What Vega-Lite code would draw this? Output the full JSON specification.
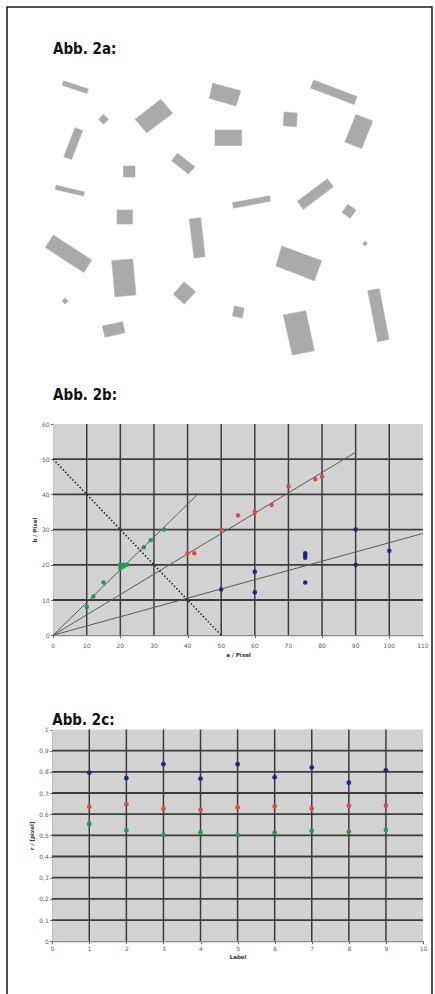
{
  "$schema": "https://vega.github.io/schema/vega-lite/v6.json",
  "width": 425,
  "height": 1000,
  "autosize": "none",
  "padding": {"left": 7, "top": 7, "right": 3, "bottom": 0},
  "background": "white",
  "config": {
    "font": "DejaVu Sans",
    "view": {"stroke": "#1a1a1a", "strokeWidth": 1.5},
    "axis": {
      "labelFontSize": 6,
      "labelColor": "#606060",
      "labelPadding": 1.5,
      "labelFlush": false,
      "labelOverlap": false,
      "labelBound": false,
      "labelSeparation": 0,
      "tickColor": "#666666",
      "tickSize": 2.5,
      "domainColor": "#555555",
      "domainWidth": 1,
      "titleFontSize": 5.5,
      "titleFontWeight": "bold",
      "titleColor": "#333333",
      "grid": false,
      "zindex": 1
    }
  },
  "resolve": {"scale": {"x": "independent", "y": "independent"}},
  "layer": [
    {
      "layer": [
        {
          "data": {"values": [
            {"r":1,"v":0,"x":63.7,"y":80.8},{"r":1,"v":1,"x":88.4,"y":89.1},{"r":1,"v":2,"x":87.0,"y":93.5},{"r":1,"v":3,"x":62.3,"y":85.2},
            {"r":2,"v":0,"x":103.5,"y":114.3},{"r":2,"v":1,"x":108.5,"y":119.3},{"r":2,"v":2,"x":103.5,"y":124.3},{"r":2,"v":3,"x":98.5,"y":119.3},
            {"r":3,"v":0,"x":135,"y":119.3},{"r":3,"v":1,"x":160.7,"y":99.3},{"r":3,"v":2,"x":172.7,"y":113.3},{"r":3,"v":3,"x":146.7,"y":132.7},
            {"r":4,"v":0,"x":75,"y":127.7},{"r":4,"v":1,"x":82.7,"y":130.5},{"r":4,"v":2,"x":71.5,"y":159.5},{"r":4,"v":3,"x":63.8,"y":156.7},
            {"r":5,"v":0,"x":123.5,"y":166},{"r":5,"v":1,"x":135,"y":166},{"r":5,"v":2,"x":135,"y":177},{"r":5,"v":3,"x":123.5,"y":177},
            {"r":6,"v":0,"x":177.3,"y":153.3},{"r":6,"v":1,"x":195,"y":166.7},{"r":6,"v":2,"x":188.3,"y":174},{"r":6,"v":3,"x":171.7,"y":160.7},
            {"r":7,"v":0,"x":56.2,"y":185.2},{"r":7,"v":1,"x":84.5,"y":191.9},{"r":7,"v":2,"x":83.5,"y":196.1},{"r":7,"v":3,"x":55.2,"y":189.4},
            {"r":8,"v":0,"x":117,"y":210},{"r":8,"v":1,"x":132.5,"y":210},{"r":8,"v":2,"x":132.5,"y":224},{"r":8,"v":3,"x":117,"y":224},
            {"r":9,"v":0,"x":212.7,"y":83.3},{"r":9,"v":1,"x":240.7,"y":90.7},{"r":9,"v":2,"x":236,"y":106},{"r":9,"v":3,"x":209.3,"y":98.3},
            {"r":10,"v":0,"x":215,"y":130},{"r":10,"v":1,"x":241.7,"y":130},{"r":10,"v":2,"x":241.7,"y":145.5},{"r":10,"v":3,"x":215,"y":145.5},
            {"r":11,"v":0,"x":284,"y":112},{"r":11,"v":1,"x":297.3,"y":113},{"r":11,"v":2,"x":296.5,"y":126.7},{"r":11,"v":3,"x":283.3,"y":125.7},
            {"r":12,"v":0,"x":313.5,"y":80},{"r":12,"v":1,"x":357,"y":96.5},{"r":12,"v":2,"x":354,"y":104.5},{"r":12,"v":3,"x":310.5,"y":88},
            {"r":13,"v":0,"x":355.9,"y":114.4},{"r":13,"v":1,"x":372.7,"y":121},{"r":13,"v":2,"x":361.7,"y":148.6},{"r":13,"v":3,"x":344.9,"y":142},
            {"r":14,"v":0,"x":232.5,"y":202.8},{"r":14,"v":1,"x":269.5,"y":195.8},{"r":14,"v":2,"x":270.5,"y":201.2},{"r":14,"v":3,"x":233.5,"y":208.2},
            {"r":15,"v":0,"x":327.4,"y":178.7},{"r":15,"v":1,"x":333.4,"y":186.7},{"r":15,"v":2,"x":303.4,"y":209.3},{"r":15,"v":3,"x":297.4,"y":201.3},
            {"r":16,"v":0,"x":347.8,"y":204.3},{"r":16,"v":1,"x":356,"y":210.1},{"r":16,"v":2,"x":350.2,"y":218.3},{"r":16,"v":3,"x":342,"y":212.5},
            {"r":17,"v":0,"x":45.3,"y":247.45},{"r":17,"v":1,"x":53.3,"y":235.05},{"r":17,"v":2,"x":91.7,"y":260.05},{"r":17,"v":3,"x":83.7,"y":272.45},
            {"r":18,"v":0,"x":111.7,"y":260.7},{"r":18,"v":1,"x":132.7,"y":259},{"r":18,"v":2,"x":136,"y":295},{"r":18,"v":3,"x":115,"y":296.7},
            {"r":19,"v":0,"x":65,"y":298},{"r":19,"v":1,"x":68,"y":301},{"r":19,"v":2,"x":65,"y":304},{"r":19,"v":3,"x":62,"y":301},
            {"r":20,"v":0,"x":102.3,"y":326},{"r":20,"v":1,"x":122.7,"y":321.7},{"r":20,"v":2,"x":125,"y":332.7},{"r":20,"v":3,"x":105,"y":337.3},
            {"r":21,"v":0,"x":189.3,"y":219},{"r":21,"v":1,"x":200.7,"y":217.7},{"r":21,"v":2,"x":205,"y":256.7},{"r":21,"v":3,"x":194,"y":258},
            {"r":22,"v":0,"x":184,"y":281.7},{"r":22,"v":1,"x":195.7,"y":291.7},{"r":22,"v":2,"x":184.3,"y":304},{"r":22,"v":3,"x":173.3,"y":294.3},
            {"r":23,"v":0,"x":281.7,"y":246},{"r":23,"v":1,"x":321.7,"y":260.7},{"r":23,"v":2,"x":314.3,"y":280.7},{"r":23,"v":3,"x":276,"y":266},
            {"r":24,"v":0,"x":365,"y":241.2},{"r":24,"v":1,"x":367.5,"y":243.7},{"r":24,"v":2,"x":365,"y":246.2},{"r":24,"v":3,"x":362.5,"y":243.7},
            {"r":25,"v":0,"x":234.4,"y":306.1},{"r":25,"v":1,"x":244.2,"y":308.1},{"r":25,"v":2,"x":242.2,"y":317.9},{"r":25,"v":3,"x":232.4,"y":315.9},
            {"r":26,"v":0,"x":283.3,"y":315},{"r":26,"v":1,"x":305.7,"y":310.7},{"r":26,"v":2,"x":314.3,"y":350.7},{"r":26,"v":3,"x":292.3,"y":355},
            {"r":27,"v":0,"x":367.7,"y":290.7},{"r":27,"v":1,"x":379.3,"y":288.7},{"r":27,"v":2,"x":389,"y":339.3},{"r":27,"v":3,"x":377.7,"y":341.7}
          ]},
          "mark": {"type": "line", "filled": true, "fill": "#aaaaaa", "stroke": "#b0b0b0", "strokeWidth": 0.6, "interpolate": "linear-closed"},
          "encoding": {
            "x": {"field": "x", "type": "quantitative", "scale": {"domain": [7, 432], "nice": false, "zero": false}, "axis": null},
            "y": {"field": "y", "type": "quantitative", "scale": {"domain": [7, 1007], "nice": false, "zero": false, "reverse": true}, "axis": null},
            "detail": {"field": "r"},
            "order": {"field": "v"}
          }
        },
        {
          "data": {"values": [{"t": "Abb. 2a:", "x": 53, "y": 53.5}]},
          "mark": {"type": "text", "align": "left", "baseline": "alphabetic", "font": "DejaVu Sans Condensed, Liberation Sans Narrow, DejaVu Sans", "fontWeight": "bold", "fontSize": 15, "color": "#111111"},
          "encoding": {
            "x": {"field": "x", "type": "quantitative", "axis": null},
            "y": {"field": "y", "type": "quantitative", "axis": null},
            "text": {"field": "t"}
          }
        }
      ]
    },
    {
      "layer": [
        {
          "data": {"values": [{"a0": 0, "a1": 110, "b0": 0, "b1": 60}]},
          "mark": {"type": "rect", "fill": "#d2d2d2"},
          "encoding": {
            "x": {"field": "a0", "type": "quantitative",
              "scale": {"domain": [0, 110], "range": [46.1, 415.9], "nice": false, "zero": false},
              "axis": {"orient": "bottom", "offset": -371.8, "values": [0,10,20,30,40,50,60,70,80,90,100,110], "labels": false, "title": "a / Pixel", "titleColor": "#333333", "titlePadding": 14}},
            "x2": {"field": "a1"},
            "y": {"field": "b0", "type": "quantitative",
              "scale": {"domain": [0, 60], "range": [628.2, 417], "nice": false, "zero": false},
              "axis": {"orient": "left", "offset": -46.1, "values": [0,10,20,30,40,50,60], "format": "d", "labelOverlap": false, "title": "b / Pixel", "titleColor": "#333333", "titlePadding": 4}},
            "y2": {"field": "b1"}
          }
        },
        {
          "data": {"values": [{"g":10},{"g":20},{"g":30},{"g":40},{"g":50},{"g":60},{"g":70},{"g":80},{"g":90},{"g":100}]},
          "mark": {"type": "rule", "color": "#3c3c3c", "strokeWidth": 1.5},
          "encoding": {
            "x": {"field": "g", "type": "quantitative"},
            "y": {"datum": 0},
            "y2": {"datum": 60}
          }
        },
        {
          "data": {"values": [{"g":10},{"g":20},{"g":30},{"g":40},{"g":50}]},
          "mark": {"type": "rule", "color": "#3c3c3c", "strokeWidth": 1.8},
          "encoding": {
            "y": {"field": "g", "type": "quantitative"},
            "x": {"datum": 0},
            "x2": {"datum": 110}
          }
        },
        {
          "data": {"values": [{"n":0},{"n":10},{"n":20},{"n":30},{"n":40},{"n":50},{"n":60},{"n":70},{"n":80},{"n":90},{"n":100},{"n":110}]},
          "mark": {"type": "text", "fontSize": 6, "color": "#606060", "align": "center", "baseline": "middle"},
          "encoding": {
            "x": {"field": "n", "type": "quantitative"},
            "y": {"datum": -3.2},
            "text": {"field": "n", "type": "quantitative", "format": "d"}
          }
        },
        {
          "data": {"values": [
            {"a":0,"b":0,"l":"gruen"},{"a":43,"b":40,"l":"gruen"},
            {"a":0,"b":0,"l":"rot"},{"a":90,"b":52,"l":"rot"},
            {"a":0,"b":0,"l":"blau"},{"a":110,"b":28.9,"l":"blau"}
          ]},
          "mark": {"type": "line", "color": "#5a5a5a", "strokeWidth": 1},
          "encoding": {
            "x": {"field": "a", "type": "quantitative"},
            "y": {"field": "b", "type": "quantitative"},
            "detail": {"field": "l"}
          }
        },
        {
          "data": {"values": [{"a":0,"b":50},{"a":50,"b":0}]},
          "mark": {"type": "line", "color": "#1e1e1e", "strokeWidth": 1.5, "strokeDash": [1.5, 2]},
          "encoding": {
            "x": {"field": "a", "type": "quantitative"},
            "y": {"field": "b", "type": "quantitative"}
          }
        },
        {
          "data": {"values": [
            {"a":10,"b":8,"s":"gruen"},{"a":12,"b":11,"s":"gruen"},{"a":15,"b":15,"s":"gruen"},
            {"a":20,"b":19,"s":"gruen"},{"a":20,"b":20,"s":"gruen"},{"a":21,"b":20,"s":"gruen"},{"a":21,"b":19.5,"s":"gruen"},{"a":22,"b":20,"s":"gruen"},
            {"a":27,"b":25,"s":"gruen"},{"a":29,"b":27,"s":"gruen"},{"a":33,"b":30,"s":"gruen"},
            {"a":40,"b":23.3,"s":"rot"},{"a":42,"b":23.3,"s":"rot"},{"a":50,"b":30,"s":"rot"},{"a":55,"b":34,"s":"rot"},
            {"a":60,"b":35,"s":"rot"},{"a":65,"b":37,"s":"rot"},{"a":70,"b":42.3,"s":"rot"},{"a":78,"b":44.3,"s":"rot"},{"a":80,"b":45,"s":"rot"},
            {"a":50,"b":13,"s":"blau"},{"a":60,"b":18,"s":"blau"},{"a":60,"b":12.2,"s":"blau"},
            {"a":75,"b":23.3,"s":"blau"},{"a":75,"b":22.6,"s":"blau"},{"a":75,"b":22,"s":"blau"},{"a":75,"b":15,"s":"blau"},
            {"a":90,"b":30,"s":"blau"},{"a":90,"b":20,"s":"blau"},{"a":100,"b":24,"s":"blau"}
          ]},
          "mark": {"type": "point", "filled": true, "opacity": 1, "size": 20},
          "encoding": {
            "x": {"field": "a", "type": "quantitative"},
            "y": {"field": "b", "type": "quantitative"},
            "color": {"field": "s", "type": "nominal", "scale": {"domain": ["blau", "rot", "gruen"], "range": ["#1d2785", "#e6483e", "#1f9e4e"]}, "legend": null}
          }
        },
        {
          "data": {"values": [{"t": "Abb. 2b:", "x": 0, "y": 66.8}]},
          "mark": {"type": "text", "align": "left", "baseline": "alphabetic", "font": "DejaVu Sans Condensed, Liberation Sans Narrow, DejaVu Sans", "fontWeight": "bold", "fontSize": 15, "color": "#111111"},
          "encoding": {
            "x": {"field": "x", "type": "quantitative"},
            "y": {"field": "y", "type": "quantitative"},
            "text": {"field": "t"}
          }
        }
      ]
    },
    {
      "layer": [
        {
          "data": {"values": [{"l0": 0, "l1": 10, "r0": 0, "r1": 1}]},
          "mark": {"type": "rect", "fill": "#d2d2d2"},
          "encoding": {
            "x": {"field": "l0", "type": "quantitative",
              "scale": {"domain": [0, 10], "range": [45.2, 416], "nice": false, "zero": false},
              "axis": {"orient": "bottom", "offset": -65.8, "values": [0,1,2,3,4,5,6,7,8,9,10], "format": "d", "labelOverlap": false, "title": "Label", "titleColor": "#333333", "titlePadding": 3}},
            "x2": {"field": "l1"},
            "y": {"field": "r0", "type": "quantitative",
              "scale": {"domain": [0, 1], "range": [934.2, 722.5], "nice": false, "zero": false},
              "axis": {"orient": "left", "offset": -45.2, "values": [0,0.1,0.2,0.3,0.4,0.5,0.6,0.7,0.8,0.9,1], "format": ".1~f", "labelOverlap": false, "labelExpr": "replace(datum.label, '.', ',')", "title": "r / [pixel]", "titleColor": "#333333", "titlePadding": 4}},
            "y2": {"field": "r1"}
          }
        },
        {
          "data": {"values": [{"g":1},{"g":2},{"g":3},{"g":4},{"g":5},{"g":6},{"g":7},{"g":8},{"g":9}]},
          "mark": {"type": "rule", "color": "#3c3c3c", "strokeWidth": 1.5},
          "encoding": {
            "x": {"field": "g", "type": "quantitative"},
            "y": {"datum": 0},
            "y2": {"datum": 1}
          }
        },
        {
          "data": {"values": [{"g":0.1},{"g":0.2},{"g":0.3},{"g":0.4},{"g":0.5},{"g":0.6},{"g":0.7},{"g":0.8},{"g":0.9}]},
          "mark": {"type": "rule", "color": "#3c3c3c", "strokeWidth": 1.8},
          "encoding": {
            "y": {"field": "g", "type": "quantitative"},
            "x": {"datum": 0},
            "x2": {"datum": 10}
          }
        },
        {
          "data": {"values": [
            {"k":1,"w":0.796,"s":"blau"},{"k":2,"w":0.770,"s":"blau"},{"k":3,"w":0.836,"s":"blau"},{"k":4,"w":0.768,"s":"blau"},{"k":5,"w":0.836,"s":"blau"},
            {"k":6,"w":0.774,"s":"blau"},{"k":7,"w":0.821,"s":"blau"},{"k":8,"w":0.749,"s":"blau"},{"k":9,"w":0.807,"s":"blau"},
            {"k":1,"w":0.635,"s":"rot"},{"k":2,"w":0.647,"s":"rot"},{"k":3,"w":0.626,"s":"rot"},{"k":4,"w":0.621,"s":"rot"},{"k":5,"w":0.632,"s":"rot"},
            {"k":6,"w":0.637,"s":"rot"},{"k":7,"w":0.626,"s":"rot"},{"k":8,"w":0.640,"s":"rot"},{"k":9,"w":0.640,"s":"rot"},
            {"k":1,"w":0.554,"s":"gruen"},{"k":2,"w":0.524,"s":"gruen"},{"k":3,"w":0.502,"s":"gruen"},{"k":4,"w":0.513,"s":"gruen"},{"k":5,"w":0.502,"s":"gruen"},
            {"k":6,"w":0.513,"s":"gruen"},{"k":7,"w":0.522,"s":"gruen"},{"k":8,"w":0.517,"s":"gruen"},{"k":9,"w":0.525,"s":"gruen"}
          ]},
          "mark": {"type": "point", "filled": true, "opacity": 1, "size": 22},
          "encoding": {
            "x": {"field": "k", "type": "quantitative"},
            "y": {"field": "w", "type": "quantitative"},
            "color": {"field": "s", "type": "nominal", "scale": {"domain": ["blau", "rot", "gruen"], "range": ["#1d2785", "#e6483e", "#1f9e4e"]}, "legend": null}
          }
        },
        {
          "data": {"values": [{"t": "Abb. 2c:", "x": 0, "y": 1.021}]},
          "mark": {"type": "text", "align": "left", "baseline": "alphabetic", "font": "DejaVu Sans Condensed, Liberation Sans Narrow, DejaVu Sans", "fontWeight": "bold", "fontSize": 15, "color": "#111111"},
          "encoding": {
            "x": {"field": "x", "type": "quantitative"},
            "y": {"field": "y", "type": "quantitative"},
            "text": {"field": "t"}
          }
        }
      ]
    }
  ]
}
